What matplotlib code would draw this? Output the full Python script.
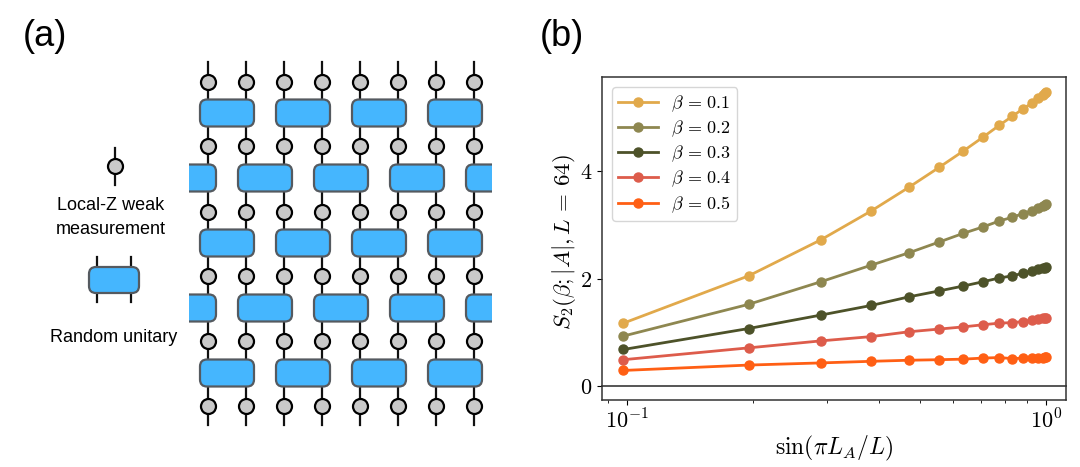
import matplotlib
matplotlib.use('Agg')
import matplotlib.pyplot as plt
from matplotlib.patches import FancyBboxPatch, Rectangle
from matplotlib.ticker import NullFormatter

W, H = 1080, 467

plt.rcParams['mathtext.fontset'] = 'cm'
plt.rcParams['font.family'] = ['Liberation Sans', 'DejaVu Sans']

# data
sin_x = [0.098, 0.195, 0.290, 0.383, 0.471, 0.556, 0.634, 0.707,
         0.773, 0.831, 0.882, 0.924, 0.957, 0.981, 0.995, 1.0]
s2_b01 = [1.17, 2.05, 2.72, 3.26, 3.70, 4.07, 4.37, 4.63, 4.85, 5.02, 5.16, 5.26, 5.35, 5.41, 5.46, 5.48]
s2_b02 = [0.93, 1.52, 1.94, 2.25, 2.48, 2.68, 2.84, 2.96, 3.07, 3.14, 3.21, 3.26, 3.31, 3.35, 3.37, 3.38]
s2_b03 = [0.68, 1.07, 1.32, 1.50, 1.66, 1.77, 1.86, 1.94, 2.01, 2.05, 2.10, 2.14, 2.17, 2.19, 2.20, 2.21]
s2_b04 = [0.49, 0.71, 0.84, 0.92, 1.01, 1.06, 1.10, 1.14, 1.17, 1.18, 1.20, 1.22, 1.24, 1.26, 1.27, 1.27]
s2_b05 = [0.29, 0.39, 0.43, 0.46, 0.48, 0.49, 0.50, 0.52, 0.53, 0.51, 0.52, 0.52, 0.53, 0.53, 0.54, 0.54]
series = [s2_b01, s2_b02, s2_b03, s2_b04, s2_b05]
betas = ['0.1', '0.2', '0.3', '0.4', '0.5']
colors = ['#e1a94b', '#8e8750', '#4d5229', '#dd5c4b', '#ff5f14']

# circuit layout in pixels
wire_x = [208, 246, 284, 322, 360, 398, 436, 474]
circle_y = [82, 146, 212, 276, 341, 406]
gate_y = [113, 178, 243, 308, 373]
blue = '#45b6fe'
gate_edge = '#555a60'
grey = '#c9c9c9'

fig = plt.figure(figsize=(W / 100, H / 100), dpi=100)

# left panel, drawn in pixel coordinates
bg = fig.add_axes([0, 0, 1, 1])
bg.set_xlim(0, W)
bg.set_ylim(H, 0)
bg.axis('off')


def gate(cx, cy, w=54, h=27, clip=None):
    p = FancyBboxPatch((cx - w / 2 + 6, cy - h / 2 + 6), w - 12, h - 12,
                       boxstyle='round,pad=6,rounding_size=7', fc=blue,
                       ec=gate_edge, lw=1.6, zorder=3)
    bg.add_patch(p)
    if clip is not None:
        p.set_clip_path(clip)


def meas(x, y):
    bg.plot([x], [y], 'o', ms=10.8, mfc=grey, mec='black', mew=1.6, zorder=4)


for x in wire_x:
    bg.plot([x, x], [62, 425], color='#111111', lw=1.6, zorder=1)
    for y in circle_y:
        meas(x, y)

clip_box = Rectangle((189, 60), 303, 370, transform=bg.transData)
for i, y in enumerate(gate_y):
    if i % 2 == 0:
        for a, b in zip(wire_x[0::2], wire_x[1::2]):
            gate((a + b) / 2, y)
    else:
        for a, b in zip(wire_x[1::2], wire_x[2::2]):
            gate((a + b) / 2, y)
        gate(wire_x[0] - 19, y, clip=clip_box)
        gate(wire_x[-1] + 19, y, clip=clip_box)

# symbol key
bg.plot([115, 115], [148, 185], color='#111111', lw=1.6, zorder=1)
meas(115, 166)
for x in [97, 131]:
    bg.plot([x, x], [257, 302], color='#111111', lw=1.6, zorder=1)
gate(114, 280, w=50, h=26)

bg.text(111, 206, 'Local-Z weak', ha='center', va='center', fontsize=13)
bg.text(111, 229, 'measurement', ha='center', va='center', fontsize=13)
bg.text(114, 337, 'Random unitary', ha='center', va='center', fontsize=13)
bg.text(45, 36, '(a)', ha='center', va='center', fontsize=26)
bg.text(562, 36, '(b)', ha='center', va='center', fontsize=26)

# right panel
ax = fig.add_axes([602 / W, 1 - 400 / H, (1066 - 602) / W, (400 - 77) / H])
for vals, b, c in zip(series, betas, colors):
    ax.plot(sin_x, vals, '-o', color=c, lw=2, ms=6.5, label=r'$\beta\,=\,' + b + '$')
ax.axhline(0, color='#555555', lw=1.4, zorder=1, clip_on=False)
ax.set_xscale('log')
ax.set_xlim(0.0871, 1.116)
ax.set_ylim(-0.26, 5.75)
ax.set_yticks([0, 2, 4])
ax.set_yticklabels(['$0$', '$2$', '$4$'])
ax.set_xticks([0.1, 1])
ax.set_xticklabels(['$10^{-1}$', '$10^{0}$'])
ax.xaxis.set_minor_formatter(NullFormatter())
ax.tick_params(axis='both', which='major', labelsize=16)
ax.set_xlabel(r'$\sin(\pi L_A/L)$', fontsize=17, labelpad=0)
ax.set_ylabel(r'$S_2(\beta;|A|,L\,=\,64)$', fontsize=16.5, labelpad=1, y=0.49)
for s in ax.spines.values():
    s.set_color('#333333')
    s.set_linewidth(1.1)
ax.legend(loc='upper left', fontsize=13, bbox_to_anchor=(0.0216, 0.969),
          borderaxespad=0, borderpad=0.35, labelspacing=0.26,
          handlelength=2.2, handletextpad=0.7)

fig.savefig('out.png', dpi=100)
